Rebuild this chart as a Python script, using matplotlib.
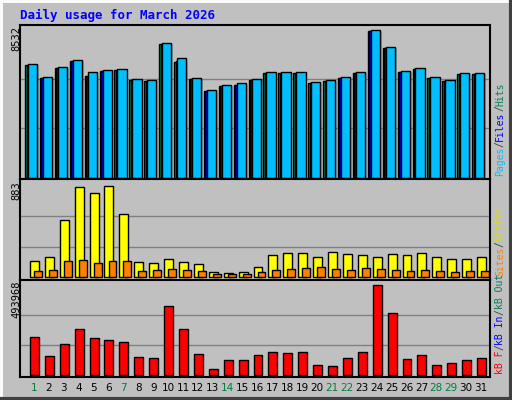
import matplotlib
matplotlib.use("Agg")
import matplotlib.pyplot as plt

days = list(range(1, 32))
hits = [6559,5804,6384,6791,6094,6210,6268,5688,5630,7777,6907,5746,5049,5340,5456,5688,
        6094,6094,6094,5514,5630,5804,6094,8532,7545,6152,6326,5804,5630,6036,6036]
files = [h - 30 for h in hits]
files[4] -= 150; files[10] -= 150; files[14] -= 60
pages = [f - 20 for f in files]
visits = [155,194,553,873,815,883,611,146,136,175,146,126,49,39,49,97,213,233,233,194,243,223,213,194,223,213,233,194,175,175,194]
sites = [58,68,155,165,136,155,155,58,68,78,68,58,29,29,29,49,68,78,87,97,78,68,87,78,68,58,68,58,49,58,58]
kbf = [206000,103000,168000,250000,201000,190000,179000,98000,92000,380000,255000,114000,33000,81000,81000,
       109000,125000,119000,125000,54000,49000,92000,125000,493968,337000,87000,109000,54000,65000,81000,92000]
weekend = [1,7,14,21,22,28,29]

W, H = 512, 400
fig = plt.figure(figsize=(W/100, H/100), dpi=100, facecolor="#C0C0C0")
fig.add_artist(plt.Line2D([0,1],[1-1/H,1-1/H], color="white", lw=2, transform=fig.transFigure))
fig.add_artist(plt.Line2D([1/W,1/W],[0,1], color="white", lw=2, transform=fig.transFigure))
fig.add_artist(plt.Line2D([0,1],[1/H,1/H], color="#404040", lw=3, transform=fig.transFigure))
fig.add_artist(plt.Line2D([1-1/W,1-1/W],[0,1], color="#404040", lw=3, transform=fig.transFigure))

mono = "DejaVu Sans Mono"
fig.text(20/W, 1-15/H, "Daily usage for March 2026", color="#0000FF", fontsize=9,
         fontweight="bold", family=mono, va="center", ha="left")

def mkax(top, bot):
    ax = fig.add_axes([20/W, 1-bot/H, 470/W, (bot-top)/H])
    ax.set_facecolor("#C0C0C0")
    ax.set_xlim(0.06, 31.6)
    for s in ax.spines.values():
        s.set_color("black"); s.set_linewidth(1.5)
    ax.set_xticks([]); ax.set_yticks([])
    return ax

ek = dict(edgecolor="black", linewidth=1)

ax1 = mkax(25, 179)
m1 = max(hits)
ax1.set_ylim(-m1*0.01, m1/0.965)
for f in (1/3, 2/3):
    ax1.axhline(m1*f, color="#808080", lw=1, zorder=0)
ax1.bar([d-0.6 for d in days], pages, width=0.75, align="edge", color="#00805C", **ek)
ax1.bar([d-0.5 for d in days], files, width=0.7, align="edge", color="#0000FF", **ek)
ax1.bar([d-0.4 for d in days], hits, width=0.62, align="edge", color="#00BFFF", **ek)

ax2 = mkax(179, 280)
m2 = max(visits)
ax2.set_ylim(-m2*0.03, m2/0.93)
for f in (1/3, 2/3):
    ax2.axhline(m2*f, color="#808080", lw=1, zorder=0)
ax2.bar([d-0.27 for d in days], visits, width=0.6, align="edge", color="#FFFF00", **ek)
ax2.bar([d for d in days], sites, width=0.53, align="edge", color="#FF8000", **ek)

ax3 = mkax(280, 377)
m3 = max(kbf)
ax3.set_ylim(-m3*0.02, m3/0.95)
for f in (1/3, 2/3):
    ax3.axhline(m3*f, color="#808080", lw=1, zorder=0)
ax3.bar([d-0.27 for d in days], kbf, width=0.6, align="edge", color="#FF0000", **ek)

for d in days:
    x = 20/W + (d-0.06)/(31.6-0.06)*470/W
    fig.text(x, 1-388/H, str(d), ha="center", va="center", fontsize=7.5,
             color="#008040" if d in weekend else "black")

for y, t in ((26, "8532"), (181, "883"), (281, "493968")):
    fig.text(16/W, 1-y/H, t, rotation=90, ha="center", va="top", fontsize=7.5, family=mono)

fig.canvas.draw()
r = fig.canvas.get_renderer()

def rlabel(ybot, parts):
    y = ybot
    for txt, col in parts:
        t = fig.text(500/W, 1-y/H, txt, rotation=90, ha="center", va="bottom",
                     fontsize=7, family=mono, color=col)
        y -= t.get_window_extent(r).height

rlabel(176, [("Pages", "#00BFFF"), ("/", "#404040"), ("Files", "#0000FF"), ("/", "#404040"), ("Hits", "#00805C")])
rlabel(276, [("Sites", "#FF8000"), ("/", "#404040"), ("Visits", "#DDDD00")])
rlabel(374, [("kB F", "#FF0000"), ("/", "#404040"), ("kB In", "#0000FF"), ("/", "#404040"), ("kB Out", "#00805C")])

fig.savefig("out.png", dpi=100, facecolor=fig.get_facecolor())
